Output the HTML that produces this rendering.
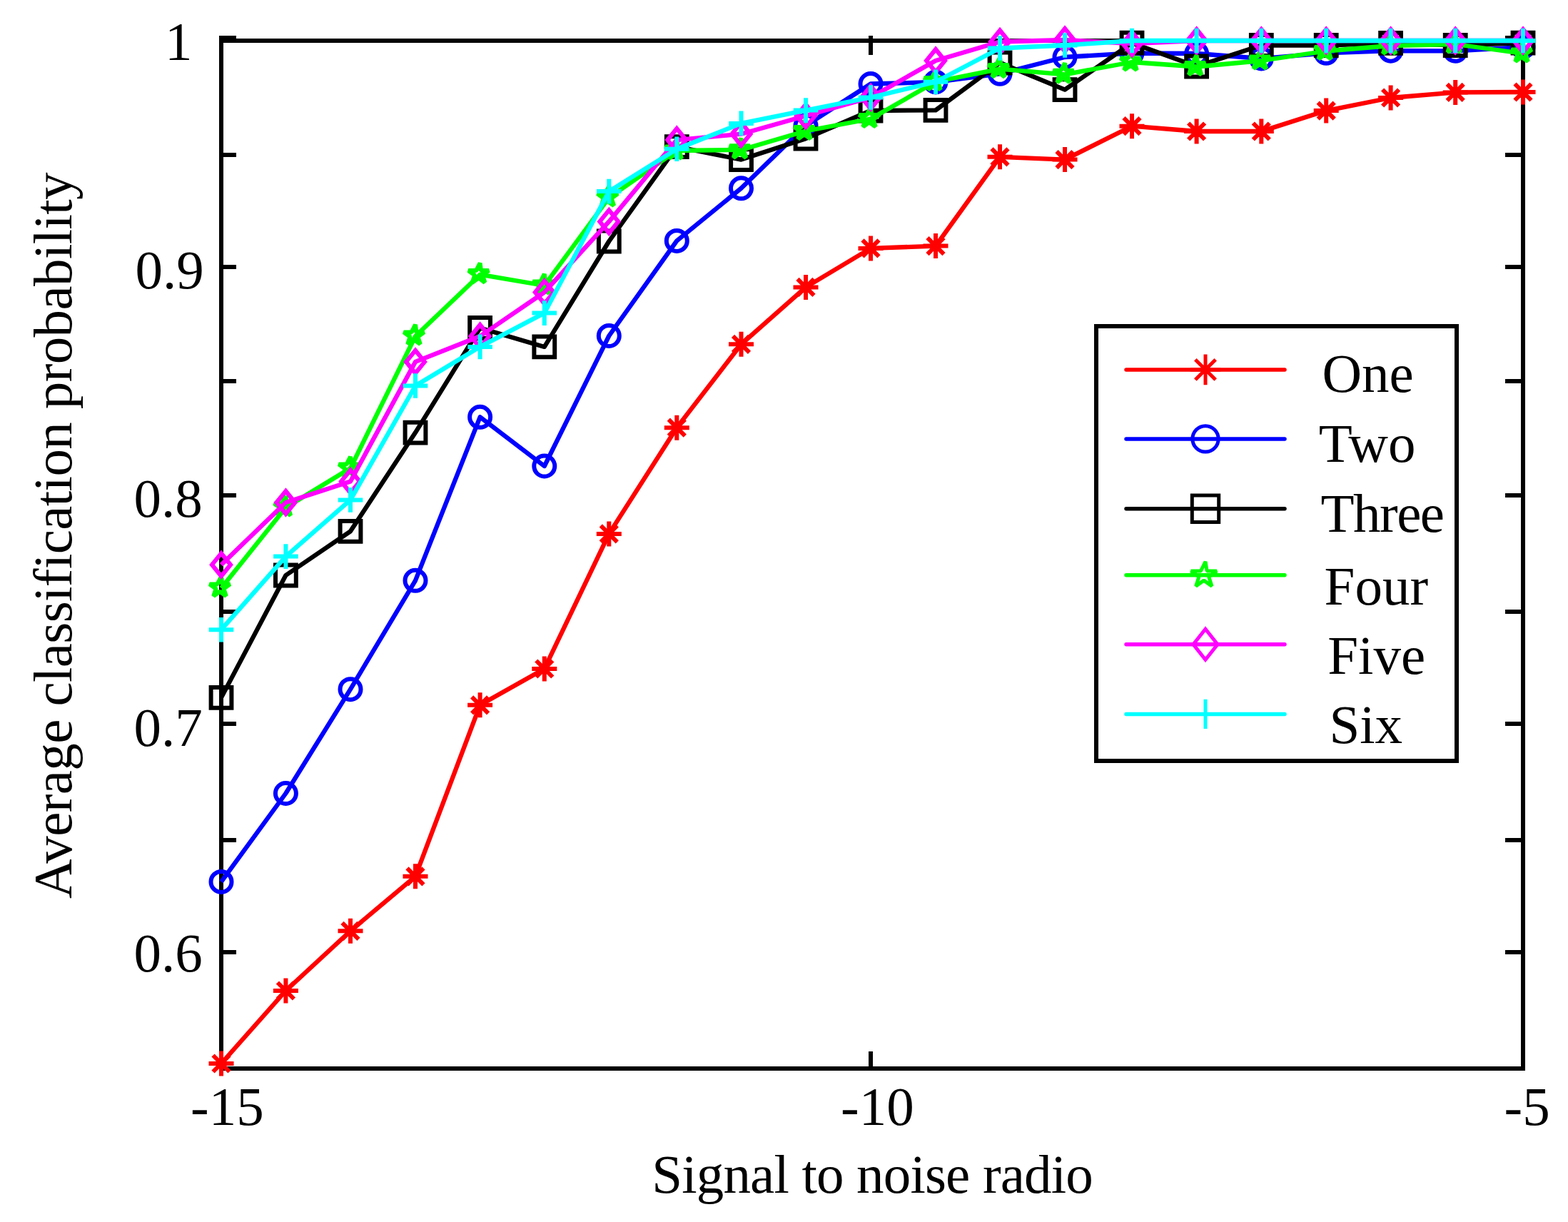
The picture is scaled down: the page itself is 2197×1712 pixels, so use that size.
<!DOCTYPE html><html><head><meta charset="utf-8"><title>plot</title><style>html,body{margin:0;padding:0;background:#fff;overflow:hidden}svg{display:block}</style></head><body><svg width="2197" height="1712" viewBox="0 0 2197 1712">
<rect width="2197" height="1712" fill="#fff"/>
<g fill="#000">
<rect x="307" y="54" width="1830" height="6"/>
<rect x="307" y="1494" width="1830" height="6"/>
<rect x="307" y="54" width="6" height="1446"/>
<rect x="2131" y="54" width="6" height="1446"/>
<rect x="307" y="50" width="24" height="6"/>
<rect x="2109" y="50" width="28" height="6"/>
<rect x="307" y="214" width="24" height="6"/>
<rect x="2109" y="214" width="28" height="6"/>
<rect x="307" y="371" width="24" height="6"/>
<rect x="2109" y="371" width="28" height="6"/>
<rect x="307" y="531" width="24" height="6"/>
<rect x="2109" y="531" width="28" height="6"/>
<rect x="307" y="691" width="24" height="6"/>
<rect x="2109" y="691" width="28" height="6"/>
<rect x="307" y="854" width="24" height="6"/>
<rect x="2109" y="854" width="28" height="6"/>
<rect x="307" y="1011" width="24" height="6"/>
<rect x="2109" y="1011" width="28" height="6"/>
<rect x="307" y="1174" width="24" height="6"/>
<rect x="2109" y="1174" width="28" height="6"/>
<rect x="307" y="1331" width="24" height="6"/>
<rect x="2109" y="1331" width="28" height="6"/>
<rect x="307" y="1473" width="6" height="27"/>
<rect x="307" y="50" width="6" height="27"/>
<rect x="1217" y="1473" width="6" height="27"/>
<rect x="1217" y="50" width="6" height="27"/>
<rect x="2131" y="1473" width="6" height="27"/>
<rect x="2131" y="50" width="6" height="27"/>
</g>
<polyline points="310,1490 400.4,1388 491,1304.3 582,1227.8 672.6,987.8 762.8,937 853.3,747.9 948.3,599.2 1038.5,482.3 1129,402.4 1220,347.9 1311,344.6 1401,219.8 1492,223.6 1586,176.7 1676.6,184 1767.3,184 1858.2,155.1 1948.6,137 2039.2,129.4 2134,129" fill="none" stroke="#ff0000" stroke-width="6.3" stroke-linejoin="round"/>
<path d="M292.5 1490H327.5M310 1472.5V1507.5M298.5 1478.5L321.5 1501.5M298.5 1501.5L321.5 1478.5M382.9 1388H417.9M400.4 1370.5V1405.5M388.9 1376.5L411.9 1399.5M388.9 1399.5L411.9 1376.5M473.5 1304.3H508.5M491 1286.8V1321.8M479.5 1292.8L502.5 1315.8M479.5 1315.8L502.5 1292.8M564.5 1227.8H599.5M582 1210.3V1245.3M570.5 1216.3L593.5 1239.3M570.5 1239.3L593.5 1216.3M655.1 987.8H690.1M672.6 970.3V1005.3M661.1 976.3L684.1 999.3M661.1 999.3L684.1 976.3M745.3 937H780.3M762.8 919.5V954.5M751.3 925.5L774.3 948.5M751.3 948.5L774.3 925.5M835.8 747.9H870.8M853.3 730.4V765.4M841.8 736.4L864.8 759.4M841.8 759.4L864.8 736.4M930.8 599.2H965.8M948.3 581.7V616.7M936.8 587.7L959.8 610.7M936.8 610.7L959.8 587.7M1021 482.3H1056M1038.5 464.8V499.8M1027 470.8L1050 493.8M1027 493.8L1050 470.8M1111.5 402.4H1146.5M1129 384.9V419.9M1117.5 390.9L1140.5 413.9M1117.5 413.9L1140.5 390.9M1202.5 347.9H1237.5M1220 330.4V365.4M1208.5 336.4L1231.5 359.4M1208.5 359.4L1231.5 336.4M1293.5 344.6H1328.5M1311 327.1V362.1M1299.5 333.1L1322.5 356.1M1299.5 356.1L1322.5 333.1M1383.5 219.8H1418.5M1401 202.3V237.3M1389.5 208.3L1412.5 231.3M1389.5 231.3L1412.5 208.3M1474.5 223.6H1509.5M1492 206.1V241.1M1480.5 212.1L1503.5 235.1M1480.5 235.1L1503.5 212.1M1568.5 176.7H1603.5M1586 159.2V194.2M1574.5 165.2L1597.5 188.2M1574.5 188.2L1597.5 165.2M1659.1 184H1694.1M1676.6 166.5V201.5M1665.1 172.5L1688.1 195.5M1665.1 195.5L1688.1 172.5M1749.8 184H1784.8M1767.3 166.5V201.5M1755.8 172.5L1778.8 195.5M1755.8 195.5L1778.8 172.5M1840.7 155.1H1875.7M1858.2 137.6V172.6M1846.7 143.6L1869.7 166.6M1846.7 166.6L1869.7 143.6M1931.1 137H1966.1M1948.6 119.5V154.5M1937.1 125.5L1960.1 148.5M1937.1 148.5L1960.1 125.5M2021.7 129.4H2056.7M2039.2 111.9V146.9M2027.7 117.9L2050.7 140.9M2027.7 140.9L2050.7 117.9M2116.5 129H2151.5M2134 111.5V146.5M2122.5 117.5L2145.5 140.5M2122.5 140.5L2145.5 117.5" fill="none" stroke="#ff0000" stroke-width="6" stroke-linejoin="miter" stroke-miterlimit="10" stroke-linecap="butt"/>
<polyline points="310,1235.4 400.4,1111.5 491,965.7 582,813.3 672.6,584.3 762.8,653 853.3,470.5 948.3,337.4 1038.5,263.8 1129,176 1220,117.5 1311,115 1401,103.3 1492,80 1586,74.5 1676.6,75 1767.3,82 1858.2,74.3 1948.6,71.2 2039.2,71.3 2134,66" fill="none" stroke="#0000ff" stroke-width="6.3" stroke-linejoin="round"/>
<path d="M295.5 1235.4a14.5 14.5 0 1 0 29 0a14.5 14.5 0 1 0 -29 0ZM385.9 1111.5a14.5 14.5 0 1 0 29 0a14.5 14.5 0 1 0 -29 0ZM476.5 965.7a14.5 14.5 0 1 0 29 0a14.5 14.5 0 1 0 -29 0ZM567.5 813.3a14.5 14.5 0 1 0 29 0a14.5 14.5 0 1 0 -29 0ZM658.1 584.3a14.5 14.5 0 1 0 29 0a14.5 14.5 0 1 0 -29 0ZM748.3 653a14.5 14.5 0 1 0 29 0a14.5 14.5 0 1 0 -29 0ZM838.8 470.5a14.5 14.5 0 1 0 29 0a14.5 14.5 0 1 0 -29 0ZM933.8 337.4a14.5 14.5 0 1 0 29 0a14.5 14.5 0 1 0 -29 0ZM1024 263.8a14.5 14.5 0 1 0 29 0a14.5 14.5 0 1 0 -29 0ZM1114.5 176a14.5 14.5 0 1 0 29 0a14.5 14.5 0 1 0 -29 0ZM1205.5 117.5a14.5 14.5 0 1 0 29 0a14.5 14.5 0 1 0 -29 0ZM1296.5 115a14.5 14.5 0 1 0 29 0a14.5 14.5 0 1 0 -29 0ZM1386.5 103.3a14.5 14.5 0 1 0 29 0a14.5 14.5 0 1 0 -29 0ZM1477.5 80a14.5 14.5 0 1 0 29 0a14.5 14.5 0 1 0 -29 0ZM1571.5 74.5a14.5 14.5 0 1 0 29 0a14.5 14.5 0 1 0 -29 0ZM1662.1 75a14.5 14.5 0 1 0 29 0a14.5 14.5 0 1 0 -29 0ZM1752.8 82a14.5 14.5 0 1 0 29 0a14.5 14.5 0 1 0 -29 0ZM1843.7 74.3a14.5 14.5 0 1 0 29 0a14.5 14.5 0 1 0 -29 0ZM1934.1 71.2a14.5 14.5 0 1 0 29 0a14.5 14.5 0 1 0 -29 0ZM2024.7 71.3a14.5 14.5 0 1 0 29 0a14.5 14.5 0 1 0 -29 0ZM2119.5 66a14.5 14.5 0 1 0 29 0a14.5 14.5 0 1 0 -29 0Z" fill="none" stroke="#0000ff" stroke-width="6" stroke-linejoin="miter" stroke-miterlimit="10" stroke-linecap="butt"/>
<polyline points="310,977.4 400.4,806 491,744.3 582,606.1 672.6,459.5 762.8,485.9 853.3,338 948.3,205.7 1038.5,223.6 1129,194.2 1220,155 1311,154.4 1401,88 1492,125.7 1586,60.2 1676.6,93 1767.3,63.5 1858.2,63.5 1948.6,60.4 2039.2,63.5 2134,60.2" fill="none" stroke="#000000" stroke-width="6.3" stroke-linejoin="round"/>
<path d="M295.6 963H324.4V991.8H295.6ZM386 791.6H414.8V820.4H386ZM476.6 729.9H505.4V758.7H476.6ZM567.6 591.7H596.4V620.5H567.6ZM658.2 445.1H687V473.9H658.2ZM748.4 471.5H777.2V500.3H748.4ZM838.9 323.6H867.7V352.4H838.9ZM933.9 191.3H962.7V220.1H933.9ZM1024.1 209.2H1052.9V238H1024.1ZM1114.6 179.8H1143.4V208.6H1114.6ZM1205.6 140.6H1234.4V169.4H1205.6ZM1296.6 140H1325.4V168.8H1296.6ZM1386.6 73.6H1415.4V102.4H1386.6ZM1477.6 111.3H1506.4V140.1H1477.6ZM1571.6 45.8H1600.4V74.6H1571.6ZM1662.2 78.6H1691V107.4H1662.2ZM1752.9 49.1H1781.7V77.9H1752.9ZM1843.8 49.1H1872.6V77.9H1843.8ZM1934.2 46H1963V74.8H1934.2ZM2024.8 49.1H2053.6V77.9H2024.8ZM2119.6 45.8H2148.4V74.6H2119.6Z" fill="none" stroke="#000000" stroke-width="6" stroke-linejoin="miter" stroke-miterlimit="10" stroke-linecap="butt"/>
<polyline points="310,824 400.4,711 491,656 582,471 672.6,384.7 762.8,400 853.3,277 948.3,211 1038.5,209.9 1129,183.5 1220,166.5 1311,114.5 1401,96.7 1492,104.3 1586,87 1676.6,93.5 1767.3,85 1858.2,71.5 1948.6,64 2039.2,62 2134,75" fill="none" stroke="#00ff00" stroke-width="6.3" stroke-linejoin="round"/>
<path d="M310 808L311.4 818.4L322.3 818.4L313.4 824.8L316.8 835.1L308 828.7L299.2 835.1L302.6 824.8L293.7 818.4L304.6 818.4ZM400.4 695L401.8 705.4L412.7 705.4L403.8 711.8L407.2 722.1L398.4 715.7L389.6 722.1L393 711.8L384.1 705.4L395 705.4ZM491 640L492.4 650.4L503.3 650.4L494.4 656.8L497.8 667.1L489 660.7L480.2 667.1L483.6 656.8L474.7 650.4L485.6 650.4ZM582 455L583.4 465.4L594.3 465.4L585.4 471.8L588.8 482.1L580 475.7L571.2 482.1L574.6 471.8L565.7 465.4L576.6 465.4ZM672.6 368.7L674 379.1L684.9 379.1L676 385.5L679.4 395.8L670.6 389.4L661.8 395.8L665.2 385.5L656.3 379.1L667.2 379.1ZM762.8 384L764.2 394.4L775.1 394.4L766.2 400.8L769.6 411.1L760.8 404.7L752 411.1L755.4 400.8L746.5 394.4L757.4 394.4ZM853.3 261L854.7 271.4L865.6 271.4L856.7 277.8L860.1 288.1L851.3 281.7L842.5 288.1L845.9 277.8L837 271.4L847.9 271.4ZM948.3 195L949.7 205.4L960.6 205.4L951.7 211.8L955.1 222.1L946.3 215.7L937.5 222.1L940.9 211.8L932 205.4L942.9 205.4ZM1038.5 193.9L1039.9 204.3L1050.8 204.3L1041.9 210.7L1045.3 221L1036.5 214.6L1027.7 221L1031.1 210.7L1022.2 204.3L1033.1 204.3ZM1129 167.5L1130.4 177.9L1141.3 177.9L1132.4 184.3L1135.8 194.6L1127 188.2L1118.2 194.6L1121.6 184.3L1112.7 177.9L1123.6 177.9ZM1220 150.5L1221.4 160.9L1232.3 160.9L1223.4 167.3L1226.8 177.6L1218 171.2L1209.2 177.6L1212.6 167.3L1203.7 160.9L1214.6 160.9ZM1311 98.5L1312.4 108.9L1323.3 108.9L1314.4 115.3L1317.8 125.6L1309 119.2L1300.2 125.6L1303.6 115.3L1294.7 108.9L1305.6 108.9ZM1401 80.7L1402.4 91.1L1413.3 91.1L1404.4 97.5L1407.8 107.8L1399 101.4L1390.2 107.8L1393.6 97.5L1384.7 91.1L1395.6 91.1ZM1492 88.3L1493.4 98.7L1504.3 98.7L1495.4 105.1L1498.8 115.4L1490 109L1481.2 115.4L1484.6 105.1L1475.7 98.7L1486.6 98.7ZM1586 71L1587.4 81.4L1598.3 81.4L1589.4 87.8L1592.8 98.1L1584 91.7L1575.2 98.1L1578.6 87.8L1569.7 81.4L1580.6 81.4ZM1676.6 77.5L1678 87.9L1688.9 87.9L1680 94.3L1683.4 104.6L1674.6 98.2L1665.8 104.6L1669.2 94.3L1660.3 87.9L1671.2 87.9ZM1767.3 69L1768.7 79.4L1779.6 79.4L1770.7 85.8L1774.1 96.1L1765.3 89.7L1756.5 96.1L1759.9 85.8L1751 79.4L1761.9 79.4ZM1858.2 55.5L1859.6 65.9L1870.5 65.9L1861.6 72.3L1865 82.6L1856.2 76.2L1847.4 82.6L1850.8 72.3L1841.9 65.9L1852.8 65.9ZM1948.6 48L1950 58.4L1960.9 58.4L1952 64.8L1955.4 75.1L1946.6 68.7L1937.8 75.1L1941.2 64.8L1932.3 58.4L1943.2 58.4ZM2039.2 46L2040.6 56.4L2051.5 56.4L2042.6 62.8L2046 73.1L2037.2 66.7L2028.4 73.1L2031.8 62.8L2022.9 56.4L2033.8 56.4ZM2134 59L2135.4 69.4L2146.3 69.4L2137.4 75.8L2140.8 86.1L2132 79.7L2123.2 86.1L2126.6 75.8L2117.7 69.4L2128.6 69.4Z" fill="none" stroke="#00ff00" stroke-width="6" stroke-linejoin="bevel" stroke-linecap="butt"/>
<polyline points="310,791.2 400.4,704 491,674.5 582,506.9 672.6,471 762.8,409.4 853.3,310.4 948.3,196.1 1038.5,187.7 1129,162.3 1220,136.5 1311,85 1401,58.5 1492,56 1586,61 1676.6,57 1767.3,57 1858.2,57 1948.6,57 2039.2,57 2134,57" fill="none" stroke="#ff00ff" stroke-width="6.3" stroke-linejoin="round"/>
<path d="M310 775.2L323 791.2L310 807.2L297 791.2ZM400.4 688L413.4 704L400.4 720L387.4 704ZM491 658.5L504 674.5L491 690.5L478 674.5ZM582 490.9L595 506.9L582 522.9L569 506.9ZM672.6 455L685.6 471L672.6 487L659.6 471ZM762.8 393.4L775.8 409.4L762.8 425.4L749.8 409.4ZM853.3 294.4L866.3 310.4L853.3 326.4L840.3 310.4ZM948.3 180.1L961.3 196.1L948.3 212.1L935.3 196.1ZM1038.5 171.7L1051.5 187.7L1038.5 203.7L1025.5 187.7ZM1129 146.3L1142 162.3L1129 178.3L1116 162.3ZM1220 120.5L1233 136.5L1220 152.5L1207 136.5ZM1311 69L1324 85L1311 101L1298 85ZM1401 42.5L1414 58.5L1401 74.5L1388 58.5ZM1492 40L1505 56L1492 72L1479 56ZM1586 45L1599 61L1586 77L1573 61ZM1676.6 41L1689.6 57L1676.6 73L1663.6 57ZM1767.3 41L1780.3 57L1767.3 73L1754.3 57ZM1858.2 41L1871.2 57L1858.2 73L1845.2 57ZM1948.6 41L1961.6 57L1948.6 73L1935.6 57ZM2039.2 41L2052.2 57L2039.2 73L2026.2 57ZM2134 41L2147 57L2134 73L2121 57Z" fill="none" stroke="#ff00ff" stroke-width="6" stroke-linejoin="miter" stroke-miterlimit="10" stroke-linecap="butt"/>
<polyline points="310,882.2 400.4,779.6 491,700.4 582,540.5 672.6,485.9 762.8,438.6 853.3,268.1 948.3,208.8 1038.5,172.9 1129,154.6 1220,136.5 1311,114.7 1401,67.5 1492,63.5 1586,57 1676.6,57 1767.3,57 1858.2,57 1948.6,57 2039.2,57 2134,57" fill="none" stroke="#00ffff" stroke-width="6.3" stroke-linejoin="round"/>
<path d="M292.7 882.2H327.3M310 864.9V899.5M383.1 779.6H417.7M400.4 762.3V796.9M473.7 700.4H508.3M491 683.1V717.7M564.7 540.5H599.3M582 523.2V557.8M655.3 485.9H689.9M672.6 468.6V503.2M745.5 438.6H780.1M762.8 421.3V455.9M836 268.1H870.6M853.3 250.8V285.4M931 208.8H965.6M948.3 191.5V226.1M1021.2 172.9H1055.8M1038.5 155.6V190.2M1111.7 154.6H1146.3M1129 137.3V171.9M1202.7 136.5H1237.3M1220 119.2V153.8M1293.7 114.7H1328.3M1311 97.4V132M1383.7 67.5H1418.3M1401 50.2V84.8M1474.7 63.5H1509.3M1492 46.2V80.8M1568.7 57H1603.3M1586 39.7V74.3M1659.3 57H1693.9M1676.6 39.7V74.3M1750 57H1784.6M1767.3 39.7V74.3M1840.9 57H1875.5M1858.2 39.7V74.3M1931.3 57H1965.9M1948.6 39.7V74.3M2021.9 57H2056.5M2039.2 39.7V74.3M2116.7 57H2151.3M2134 39.7V74.3" fill="none" stroke="#00ffff" stroke-width="6" stroke-linejoin="miter" stroke-miterlimit="10" stroke-linecap="butt"/>
<rect x="1536" y="457" width="505" height="609" fill="#fff" stroke="#000" stroke-width="6"/>
<line x1="1578" y1="517.9" x2="1800" y2="517.9" stroke="#ff0000" stroke-width="5.5" stroke-linecap="round"/>
<path d="M1667.6 517.9H1710.4M1689 496.5V539.3M1674.8 503.7L1703.2 532.1M1674.8 532.1L1703.2 503.7" fill="none" stroke="#ff0000" stroke-width="5" stroke-linejoin="miter" stroke-miterlimit="10"/>
<line x1="1578" y1="614.9" x2="1800" y2="614.9" stroke="#0000ff" stroke-width="5.5" stroke-linecap="round"/>
<path d="M1670.9 614.9a18.1 18.1 0 1 0 36.2 0a18.1 18.1 0 1 0 -36.2 0Z" fill="none" stroke="#0000ff" stroke-width="5" stroke-linejoin="miter" stroke-miterlimit="10"/>
<line x1="1578" y1="712.7" x2="1800" y2="712.7" stroke="#000000" stroke-width="5.5" stroke-linecap="round"/>
<path d="M1670.3 694H1707.7V731.4H1670.3Z" fill="none" stroke="#000000" stroke-width="5" stroke-linejoin="miter" stroke-miterlimit="10"/>
<line x1="1578" y1="805.8" x2="1800" y2="805.8" stroke="#00ff00" stroke-width="5.5" stroke-linecap="round"/>
<path d="M1689 786.8L1691.1 799.9L1704.9 799.9L1693.7 808L1698 821.2L1686.8 813.1L1675.6 821.2L1679.9 808L1668.7 799.9L1682.5 799.9Z" fill="none" stroke="#00ff00" stroke-width="5" stroke-linejoin="bevel"/>
<line x1="1578" y1="902.8" x2="1800" y2="902.8" stroke="#ff00ff" stroke-width="5.5" stroke-linecap="round"/>
<path d="M1689 881.3L1706 902.8L1689 924.3L1672 902.8Z" fill="none" stroke="#ff00ff" stroke-width="5" stroke-linejoin="miter" stroke-miterlimit="10"/>
<line x1="1578" y1="1000.4" x2="1800" y2="1000.4" stroke="#00ffff" stroke-width="5.5" stroke-linecap="round"/>
<path d="M1668.3 1000.4H1709.7M1689 979.7V1021.1" fill="none" stroke="#00ffff" stroke-width="5" stroke-linejoin="miter" stroke-miterlimit="10"/>
<text x="1852.4" y="549.4" font-family="&apos;Liberation Serif&apos;, &apos;Times New Roman&apos;, serif" font-size="77">One</text>
<text x="1847.7" y="646.9" font-family="&apos;Liberation Serif&apos;, &apos;Times New Roman&apos;, serif" font-size="77">Two</text>
<text x="1850.5" y="744.5" textLength="173.5" lengthAdjust="spacing" font-family="&apos;Liberation Serif&apos;, &apos;Times New Roman&apos;, serif" font-size="77">Three</text>
<text x="1855.6" y="846.6" font-family="&apos;Liberation Serif&apos;, &apos;Times New Roman&apos;, serif" font-size="77">Four</text>
<text x="1860.2" y="943.7" font-family="&apos;Liberation Serif&apos;, &apos;Times New Roman&apos;, serif" font-size="77">Five</text>
<text x="1862.4" y="1040.9" font-family="&apos;Liberation Serif&apos;, &apos;Times New Roman&apos;, serif" font-size="77">Six</text>
<text x="231" y="83.5" font-family="&apos;Liberation Serif&apos;, &apos;Times New Roman&apos;, serif" font-size="77">1</text>
<text x="189.5" y="403.5" font-family="&apos;Liberation Serif&apos;, &apos;Times New Roman&apos;, serif" font-size="77">0.9</text>
<text x="187.5" y="723.5" font-family="&apos;Liberation Serif&apos;, &apos;Times New Roman&apos;, serif" font-size="77">0.8</text>
<text x="187.5" y="1044.5" font-family="&apos;Liberation Serif&apos;, &apos;Times New Roman&apos;, serif" font-size="77">0.7</text>
<text x="187.5" y="1360.5" font-family="&apos;Liberation Serif&apos;, &apos;Times New Roman&apos;, serif" font-size="77">0.6</text>
<text x="267" y="1575.5" font-family="&apos;Liberation Serif&apos;, &apos;Times New Roman&apos;, serif" font-size="77">-15</text>
<text x="1178" y="1575.5" font-family="&apos;Liberation Serif&apos;, &apos;Times New Roman&apos;, serif" font-size="77">-10</text>
<text x="2107.5" y="1576" font-family="&apos;Liberation Serif&apos;, &apos;Times New Roman&apos;, serif" font-size="77">-5</text>
<text x="913.2" y="1671" textLength="618.6" lengthAdjust="spacing" font-family="&apos;Liberation Serif&apos;, &apos;Times New Roman&apos;, serif" font-size="77">Signal to noise radio</text>
<text transform="translate(100 1259) rotate(-90)" x="0" y="0" textLength="1017.6" lengthAdjust="spacing" font-family="&apos;Liberation Serif&apos;, &apos;Times New Roman&apos;, serif" font-size="77">Average classification probability</text>
</svg></body></html>
